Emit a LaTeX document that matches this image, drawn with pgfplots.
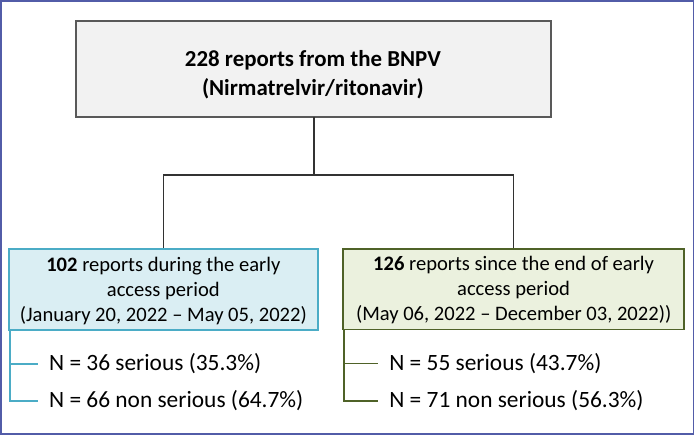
\documentclass[border=0pt]{standalone}
\usepackage{pgfplots}
\pgfplotsset{compat=1.18}
\usepackage{fontspec}
\setmainfont{Carlito}
\definecolor{frame}{RGB}{82,92,168}
\definecolor{topfill}{RGB}{242,242,242}
\definecolor{topdraw}{RGB}{89,89,89}
\definecolor{bluefill}{RGB}{218,238,243}
\definecolor{bluedraw}{RGB}{75,172,198}
\definecolor{greenfill}{RGB}{235,241,222}
\definecolor{greendraw}{RGB}{79,98,40}
\definecolor{conn}{RGB}{50,50,50}
\begin{document}
\begin{tikzpicture}
\begin{axis}[
  width=694bp, height=437bp, scale only axis,
  xmin=0, xmax=694, ymin=0, ymax=437, y dir=reverse,
  hide axis, clip=false,
]
% outer frame
\addplot[draw=frame, line width=1.5bp] coordinates {(2,1.5)(692,1.5)(692,433)(2,433)} --cycle;
% top box
\addplot[draw=topdraw, fill=topfill, line width=2bp] coordinates {(77,22)(550,22)(550,117)(77,117)} --cycle;
% connectors
\addplot[draw=conn, line width=1.4bp] coordinates {(314,117)(314,175)};
\addplot[draw=conn, line width=1.4bp] coordinates {(164,249)(164,175)(513,175)(513,249)};
% left box
\addplot[draw=bluedraw, fill=bluefill, line width=2bp] coordinates {(10,249)(318,249)(318,330)(10,330)} --cycle;
% right box
\addplot[draw=greendraw, fill=greenfill, line width=1.6bp] coordinates {(343,249)(683,249)(683,329)(343,329)} --cycle;
% brackets
\addplot[draw=bluedraw, line width=2bp] coordinates {(11,330)(11,400)(39,400)};
\addplot[draw=bluedraw, line width=2bp] coordinates {(11,363)(39,363)};
\addplot[draw=greendraw, line width=1.8bp] coordinates {(344,329)(344,400)(378,400)};
\addplot[draw=greendraw, line width=1.8bp] coordinates {(344,363)(378,363)};
% texts
\node[align=center, font=\fontsize{22.8bp}{29bp}\selectfont\bfseries] at (axis cs:313,75) {228 reports from the BNPV\\(Nirmatrelvir/ritonavir)};
\node[align=center, font=\fontsize{20.5bp}{25bp}\selectfont] at (axis cs:164,291) {\textbf{102} reports during the early\\access period\\(January 20, 2022 -- May 05, 2022)};
\node[align=center, font=\fontsize{20.5bp}{25bp}\selectfont] at (axis cs:513,290) {\textbf{126} reports since the end of early\\access period\\(May 06, 2022 -- December 03, 2022))};
\node[anchor=west, font=\fontsize{23.3bp}{26bp}\selectfont, inner sep=0pt] at (axis cs:50,363) {N = 36 serious (35.3\%)};
\node[anchor=west, font=\fontsize{23.3bp}{26bp}\selectfont, inner sep=0pt] at (axis cs:50,400) {N = 66 non serious (64.7\%)};
\node[anchor=west, font=\fontsize{23.3bp}{26bp}\selectfont, inner sep=0pt] at (axis cs:389,363) {N = 55 serious (43.7\%)};
\node[anchor=west, font=\fontsize{23.3bp}{26bp}\selectfont, inner sep=0pt] at (axis cs:389,400) {N = 71 non serious (56.3\%)};
\end{axis}
\end{tikzpicture}
\end{document}
